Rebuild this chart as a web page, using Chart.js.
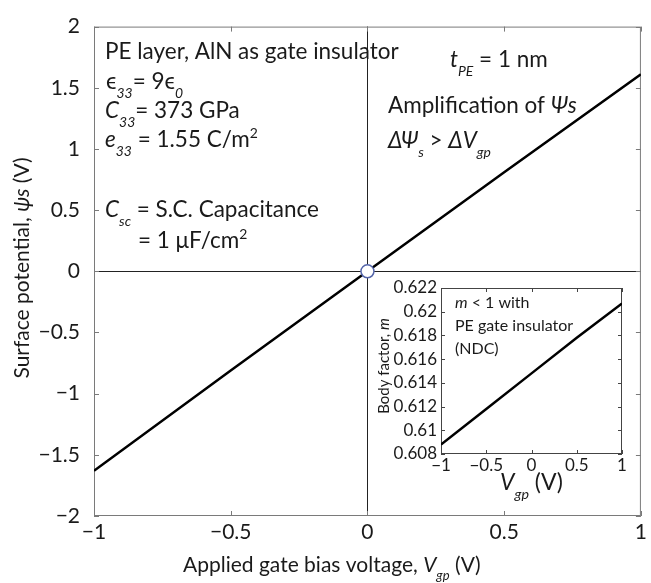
<!DOCTYPE html>
<html>
<head>
<meta charset="utf-8">
<script src="https://cdn.jsdelivr.net/npm/chart.js@4.4.1/dist/chart.umd.min.js"></script>
<style>
  body { margin: 0; background: #fff; }
  #wrap { position: relative; width: 651px; height: 583px; }
  canvas { position: absolute; }
</style>
</head>
<body>
<div id="wrap">
  <canvas id="main" width="651" height="583" style="left:0;top:0"></canvas>
  <canvas id="inset" width="256" height="238" style="left:376px;top:270px"></canvas>
</div>
<script>
// main curve: surface potential vs applied gate bias
var vgp = [-1, -0.5, 0, 0.5, 1];
var psiS = [-1.63, -0.81, 0, 0.81, 1.61];
var originX = [0];
var originY = [0];
var xTicks = [-1, -0.5, 0, 0.5, 1];
var yTicks = [-2, -1.5, -1, -0.5, 0, 0.5, 1, 1.5, 2];

// inset: body factor m vs Vgp
var insetVgp = [-1, -0.5, 0, 0.5, 1];
var bodyFactor = [0.6088, 0.6118, 0.6148, 0.6178, 0.6207];
var insetXTicks = [-1, -0.5, 0, 0.5, 1];
var insetYTicks = [0.608, 0.61, 0.612, 0.614, 0.616, 0.618, 0.62, 0.622];

var FONT = 'Lato, "DejaVu Sans", sans-serif';
var INK = '#1a1a1a';

function fmt(v) {
    var s = String(Math.round(v * 1000) / 1000);
    return s.replace('-', '\u2212');
}

function pts(xs, ys) {
    return xs.map(function(x, i){ return {x: x, y: ys[i]}; });
}

// parts: plain strings or {t, i, sub, sup}
function richWidth(ctx, parts, size) {
    var w = 0;
    parts.forEach(function(p){
        var s = typeof p === 'string' ? {t: p} : p;
        var fs = (s.sub || s.sup) ? size * 0.62 : size;
        ctx.font = (s.i ? 'italic ' : '') + fs + 'px ' + FONT;
        w += ctx.measureText(s.t).width;
    });
    return w;
}

function rich(ctx, x, y, parts, size) {
    var cx = x;
    ctx.textAlign = 'left';
    ctx.textBaseline = 'alphabetic';
    ctx.fillStyle = INK;
    parts.forEach(function(p){
        var s = typeof p === 'string' ? {t: p} : p;
        var fs = (s.sub || s.sup) ? size * 0.62 : size;
        ctx.font = (s.i ? 'italic ' : '') + fs + 'px ' + FONT;
        var dy = s.sub ? size * 0.38 : (s.sup ? -size * 0.4 : 0);
        ctx.fillText(s.t, cx, y + dy);
        cx += ctx.measureText(s.t).width;
    });
}

function richRotated(ctx, cx, cy, parts, size) {
    ctx.save();
    ctx.translate(cx, cy);
    ctx.rotate(-Math.PI / 2);
    var w = richWidth(ctx, parts, size);
    rich(ctx, -w / 2, size * 0.35, parts, size);
    ctx.restore();
}

// box round the plot plus MATLAB-style inward tick marks
function frameBox(borderColor, len) {
    return {
        id: 'frameBox',
        beforeDatasetsDraw: function(chart){
            var ctx = chart.ctx, a = chart.chartArea;
            var sx = chart.scales.x, sy = chart.scales.y;
            ctx.save();
            ctx.strokeStyle = borderColor;
            ctx.lineWidth = 1;
            ctx.strokeRect(a.left + 0.5, a.top + 0.5, a.right - a.left - 1, a.bottom - a.top - 1);
            ctx.beginPath();
            sx.ticks.forEach(function(t){
                var px = Math.round(sx.getPixelForValue(t.value)) + 0.5;
                ctx.moveTo(px, a.bottom); ctx.lineTo(px, a.bottom - len);
                ctx.moveTo(px, a.top); ctx.lineTo(px, a.top + len);
            });
            sy.ticks.forEach(function(t){
                var py = Math.round(sy.getPixelForValue(t.value)) + 0.5;
                ctx.moveTo(a.left, py); ctx.lineTo(a.left + len, py);
                ctx.moveTo(a.right, py); ctx.lineTo(a.right - len, py);
            });
            ctx.stroke();
            ctx.restore();
        }
    };
}

var mainText = {
    id: 'mainText',
    afterDraw: function(chart){
        var ctx = chart.ctx;
        var fs = 22.5;
        rich(ctx, 105, 59, ['PE layer, AlN as gate insulator'], fs);
        rich(ctx, 106, 89, ['\u03F5', {t: '33', i: 1, sub: 1}, '= 9\u03F5', {t: '0', i: 1, sub: 1}], fs);
        rich(ctx, 105, 118, [{t: 'C', i: 1}, {t: '33', i: 1, sub: 1}, '= 373 GPa'], fs);
        rich(ctx, 105, 147, [{t: 'e', i: 1}, {t: '33', i: 1, sub: 1}, ' = 1.55 C/m', {t: '2', sup: 1}], fs);
        rich(ctx, 105, 217, [{t: 'C', i: 1}, {t: 'sc', i: 1, sub: 1}, ' = S.C. Capacitance'], fs);
        rich(ctx, 138, 248, ['= 1 \u03BCF/cm', {t: '2', sup: 1}], fs);

        rich(ctx, 450, 67, [{t: 't', i: 1}, {t: 'PE', i: 1, sub: 1}, ' = 1 nm'], fs);
        rich(ctx, 388, 113, ['Amplification of ', {t: '\u03A8s', i: 1}], fs);
        rich(ctx, 388, 148, [{t: '\u0394\u03A8', i: 1}, {t: 's', i: 1, sub: 1}, ' > ', {t: '\u0394V', i: 1}, {t: 'gp', i: 1, sub: 1}], fs);

        // axis titles
        rich(ctx, 183, 572, ['Applied gate bias voltage, ', {t: 'V', i: 1}, {t: 'gp', i: 1, sub: 1}, ' (V)'], 21);
        richRotated(ctx, 22, 268, ['Surface potential, ', {t: '\u03C8s', i: 1}, ' (V)'], 21);
    }
};

var insetText = {
    id: 'insetText',
    afterDraw: function(chart){
        var ctx = chart.ctx;
        rich(ctx, 79, 38, [{t: 'm', i: 1}, ' < 1 with'], 16);
        rich(ctx, 79, 61, ['PE gate insulator'], 16);
        rich(ctx, 79, 84, ['(NDC)'], 16);
        rich(ctx, 124, 220, [{t: 'V', i: 1}, {t: 'gp', i: 1, sub: 1}, ' (V)'], 23);
        richRotated(ctx, 8, 96, ['Body factor, ', {t: 'm', i: 1}], 15);
    }
};

new Chart(document.getElementById('main'), {
    type: 'scatter',
    data: {
        datasets: [{
            data: pts(originX, originY),
            pointRadius: 6.5,
            pointBackgroundColor: '#fff',
            pointBorderColor: '#5566aa',
            pointBorderWidth: 1.5,
            order: 0
        }, {
            data: pts(vgp, psiS),
            showLine: true,
            borderColor: '#000',
            borderWidth: 2.5,
            pointRadius: 0,
            order: 1
        }]
    },
    options: {
        responsive: false,
        animation: false,
        layout: { padding: { left: 0, top: 19, right: 10, bottom: 0 } },
        plugins: { legend: { display: false }, tooltip: { enabled: false } },
        scales: {
            x: {
                min: -1, max: 1,
                afterBuildTicks: function(s){ s.ticks = xTicks.map(function(v){ return {value: v}; }); },
                afterFit: function(s){ s.height = 67; },
                ticks: { callback: fmt, color: INK, font: { family: FONT, size: 21 }, padding: 4, maxRotation: 0, autoSkip: false },
                grid: {
                    drawTicks: false,
                    color: function(c){ return c.tick && c.tick.value === 0 ? '#222' : 'rgba(0,0,0,0)'; }
                },
                border: { display: false }
            },
            y: {
                min: -2, max: 2,
                afterBuildTicks: function(s){ s.ticks = yTicks.map(function(v){ return {value: v}; }); },
                afterFit: function(s){ s.width = 94; },
                ticks: { callback: fmt, color: INK, font: { family: FONT, size: 21 }, padding: 14, autoSkip: false },
                grid: {
                    drawTicks: false,
                    color: function(c){ return c.tick && c.tick.value === 0 ? '#222' : 'rgba(0,0,0,0)'; }
                },
                border: { display: false }
            }
        }
    },
    plugins: [frameBox('#7a7a7a', 5), mainText]
});

new Chart(document.getElementById('inset'), {
    type: 'scatter',
    data: {
        datasets: [{
            data: pts(insetVgp, bodyFactor),
            showLine: true,
            borderColor: '#000',
            borderWidth: 2.5,
            pointRadius: 0
        }]
    },
    options: {
        responsive: false,
        animation: false,
        layout: { padding: { left: 0, top: 18, right: 10, bottom: 0 } },
        plugins: { legend: { display: false }, tooltip: { enabled: false } },
        scales: {
            x: {
                min: -1, max: 1,
                afterBuildTicks: function(s){ s.ticks = insetXTicks.map(function(v){ return {value: v}; }); },
                afterFit: function(s){ s.height = 54; },
                ticks: { callback: fmt, color: INK, font: { family: FONT, size: 17 }, padding: 1, maxRotation: 0, autoSkip: false },
                grid: { display: false, drawTicks: false },
                border: { display: false }
            },
            y: {
                min: 0.608, max: 0.622,
                afterBuildTicks: function(s){ s.ticks = insetYTicks.map(function(v){ return {value: v}; }); },
                afterFit: function(s){ s.width = 65; },
                ticks: { callback: fmt, color: INK, font: { family: FONT, size: 17 }, padding: 4, autoSkip: false },
                grid: { display: false, drawTicks: false },
                border: { display: false }
            }
        }
    },
    plugins: [frameBox('#444', 4), insetText]
});
</script>
</body>
</html>
